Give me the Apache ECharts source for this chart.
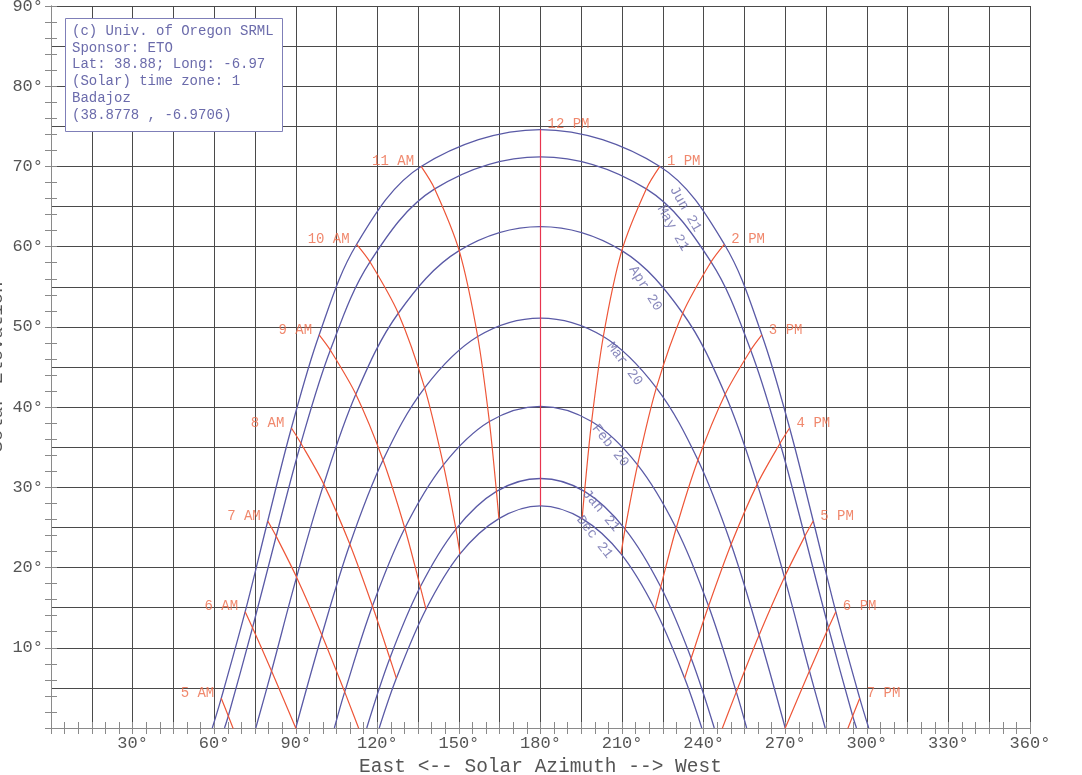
<!DOCTYPE html>
<html>
<head>
<meta charset="utf-8">
<script src="https://cdn.jsdelivr.net/npm/echarts@6/dist/echarts.min.js"></script>
<style>
html,body{margin:0;padding:0;background:#fff;}
#chart{width:1082px;height:775px;}
</style>
</head>
<body>
<div id="chart"></div>
<script>
// ---- Data (solar azimuth / elevation, degrees) ----
const hourLabels = ['5 AM','6 AM','7 AM','8 AM','9 AM','10 AM','11 AM','12 PM','1 PM','2 PM','3 PM','4 PM','5 PM','6 PM','7 PM'];
const dateNames = ['Jun 21','May 21','Apr 20','Mar 20','Feb 20','Jan 21','Dec 21'];

const jun21Az = [62.6, 71.4, 79.7, 88.4, 98.6, 112.4, 136.1, 180, 223.9, 247.6, 261.4, 271.6, 280.3, 288.6, 297.4];
const jun21El = [3.7, 14.5, 25.8, 37.4, 49.0, 60.3, 70.0, 74.6, 70.0, 60.3, 49.0, 37.4, 25.8, 14.5, 3.7];
const may21Az = [65.2, 74.1, 82.8, 91.9, 102.7, 117.3, 141.1, 180, 218.9, 242.7, 257.3, 268.1, 277.2, 285.9, 294.8];
const may21El = [1.5, 12.5, 23.9, 35.5, 47.1, 58.1, 67.2, 71.2, 67.2, 58.1, 47.1, 35.5, 23.9, 12.5, 1.5];
const apr20Az = [71.7, 81.1, 90.3, 100.3, 112.1, 127.7, 150.1, 180, 209.9, 232.3, 247.9, 259.7, 269.7, 278.9, 288.3];
const apr20El = [-4.2, 7.1, 18.8, 30.4, 41.6, 51.7, 59.5, 62.5, 59.5, 51.7, 41.6, 30.4, 18.8, 7.1, -4.2];
const mar20Az = [null, 90, 99.6, 109.9, 122.1, 137.4, 156.9, 180, 203.1, 222.6, 237.9, 250.1, 260.4, 270, null];
const mar20El = [null, 0, 11.6, 22.9, 33.4, 42.4, 48.8, 51.1, 48.8, 42.4, 33.4, 22.9, 11.6, 0, null];
const feb20Az = [null, 98.6, 108.0, 118.2, 130.1, 144.3, 161.2, 180, 198.8, 215.7, 229.9, 241.8, 252.0, 261.4, null];
const feb20El = [null, -6.9, 4.5, 15.2, 24.9, 32.8, 38.2, 40.1, 38.2, 32.8, 24.9, 15.2, 4.5, -6.9, null];
const jan21Az = [null, null, 114.8, 124.6, 135.8, 148.9, 163.8, 180, 196.2, 211.1, 224.2, 235.4, 245.2, null, null];
const jan21El = [null, null, -1.5, 8.7, 17.6, 24.8, 29.5, 31.1, 29.5, 24.8, 17.6, 8.7, -1.5, null, null];
const dec21Az = [null, null, 117.4, 127.0, 137.9, 150.4, 164.7, 180, 195.3, 209.6, 222.1, 233.0, 242.6, null, null];
const dec21El = [null, null, -3.7, 6.2, 14.8, 21.7, 26.1, 27.7, 26.1, 21.7, 14.8, 6.2, -3.7, null, null];

const sunriseAz = [59.3, 63.8, 75.3, 90.0, 104.2, 116.1, 120.7];
const sunsetAz  = [300.7, 296.2, 284.7, 270.0, 255.8, 243.9, 239.3];

// where each date's name is written along its curve
const dateLabelAz = [233.3, 228.7, 218.6, 210.9, 205.7, 202.3, 199.9];
const dateLabelEl = [64.7, 62.3, 54.8, 45.4, 35.2, 27.1, 23.8];

const xTickLabels = [30, 60, 90, 120, 150, 180, 210, 240, 270, 300, 330, 360];
const yTickLabels = [10, 20, 30, 40, 50, 60, 70, 80, 90];

const xTitle = 'East <-- Solar Azimuth --> West';
const yTitle = 'Solar Elevation';
const infoLines = ['(c) Univ. of Oregon SRML','Sponsor: ETO','Lat: 38.88; Long: -6.97','(Solar) time zone: 1','Badajoz','(38.8778 , -6.9706)'];

// ---- build series ----
const azByDate = [jun21Az, may21Az, apr20Az, mar20Az, feb20Az, jan21Az, dec21Az];
const elByDate = [jun21El, may21El, apr20El, mar20El, feb20El, jan21El, dec21El];

const FONT = 'Liberation Mono';
const BLUE = '#5a5aa6';
const RED = '#ee5638';
const LABEL_BLUE = '#6b6bab';
const LABEL_RED = '#ec6a48';
const dateRot = [-60, -60, -58, -53, -51, -50, -52];

const series = [];

dateNames.forEach((name, d) => {
  const pts = [[sunriseAz[d], 0]];
  for (let h = 0; h < hourLabels.length; h++) {
    const a = azByDate[d][h], e = elByDate[d][h];
    if (a !== null && e !== null && e > 0) pts.push([a, e]);
  }
  pts.push([sunsetAz[d], 0]);
  series.push({
    name: name, type: 'line', data: pts, smooth: 0.35,
    symbol: 'none', clip: true, silent: true,
    lineStyle: {color: BLUE, width: 1.3}, z: 3
  });
});

hourLabels.forEach((name, h) => {
  const pts = [];
  for (let d = 0; d < dateNames.length; d++) {
    const a = azByDate[d][h], e = elByDate[d][h];
    if (a !== null && e !== null) pts.push([a, e]);
  }
  series.push({
    name: name, type: 'line', data: pts, smooth: 0.3,
    symbol: 'none', clip: true, silent: true,
    lineStyle: {color: name === '12 PM' ? '#e8344e' : RED, width: 1.2}, z: 4
  });
});

// hour labels at the Jun 21 end of each hour line
series.push({
  type: 'scatter', symbolSize: 0, silent: true, z: 6,
  data: hourLabels.map((name, h) => ({
    value: [jun21Az[h], jun21El[h]],
    label: {
      show: true, formatter: name,
      position: name.indexOf('AM') >= 0 ? 'left' : 'right',
      distance: 7, offset: [0, -5],
      color: LABEL_RED, fontFamily: FONT, fontSize: 14
    }
  }))
});

// date labels along the curves
series.push({
  type: 'scatter', symbolSize: 0, silent: true, z: 6,
  data: dateNames.map((name, d) => ({
    value: [dateLabelAz[d], dateLabelEl[d]],
    label: {
      show: true, formatter: name, position: 'inside', rotate: dateRot[d],
      color: LABEL_BLUE, fontFamily: FONT, fontSize: 14
    }
  }))
});

const axisGray = '#8a8a8a';
const gridColor = '#4a4a4a';

const option = {
  animation: false,
  backgroundColor: '#fff',
  grid: {left: 51, right: 52, top: 6, bottom: 47, containLabel: false, outerBoundsMode: 'none'},
  xAxis: [
    {
      type: 'value', min: 0, max: 360, interval: 5, position: 'bottom',
      axisLine: {show: true, lineStyle: {color: axisGray, width: 1}},
      axisTick: {show: true, inside: true, length: 6, lineStyle: {color: axisGray}},
      axisLabel: {
        show: true, margin: 7, color: '#555', fontFamily: FONT, fontSize: 17,
        formatter: v => xTickLabels.indexOf(v) >= 0 ? v + '°' : ''
      },
      splitLine: {show: false},
      name: xTitle, nameLocation: 'middle', nameGap: 29,
      nameTextStyle: {color: '#555', fontFamily: FONT, fontSize: 19.5}
    },
    {
      type: 'value', min: 0, max: 360, interval: 5, position: 'top',
      axisLine: {show: true, lineStyle: {color: axisGray, width: 1}},
      axisTick: {show: true, inside: true, length: 6, lineStyle: {color: axisGray}},
      axisLabel: {show: false}, splitLine: {show: false}
    },
    {
      type: 'value', min: 0, max: 360, interval: 15, position: 'bottom',
      axisLine: {show: false}, axisTick: {show: false}, axisLabel: {show: false},
      splitLine: {show: true, lineStyle: {color: gridColor, width: 1}}
    }
  ],
  yAxis: [
    {
      type: 'value', min: 0, max: 90, interval: 2, position: 'left',
      axisLine: {show: true, lineStyle: {color: axisGray, width: 1}},
      axisTick: {show: true, inside: true, length: 6, lineStyle: {color: axisGray}},
      axisLabel: {
        show: true, margin: 8, color: '#555', fontFamily: FONT, fontSize: 17,
        formatter: v => yTickLabels.indexOf(v) >= 0 ? v + '°' : ''
      },
      splitLine: {show: false}
    },
    {
      type: 'value', min: 0, max: 90, interval: 2, position: 'right',
      axisLine: {show: true, lineStyle: {color: axisGray, width: 1}},
      axisTick: {show: true, inside: true, length: 6, lineStyle: {color: axisGray}},
      axisLabel: {show: false}, splitLine: {show: false}
    },
    {
      type: 'value', min: 0, max: 90, interval: 5, position: 'left',
      axisLine: {show: false}, axisTick: {show: false}, axisLabel: {show: false},
      splitLine: {show: true, lineStyle: {color: gridColor, width: 1}}
    }
  ],
  graphic: [
    {
      type: 'text', z: 50, x: 6, y: 367, rotation: Math.PI / 2,
      style: {
        text: yTitle, fill: '#555', font: '19px "Liberation Mono"',
        align: 'center', verticalAlign: 'bottom'
      }
    },
    {
      type: 'rect', z: 100,
      shape: {x: 65.5, y: 18.5, width: 217, height: 113},
      style: {fill: '#fff', stroke: '#7f7fb8', lineWidth: 1}
    },
    {
      type: 'text', z: 101, x: 72, y: 22.6,
      style: {
        text: infoLines.join('\n'), fill: LABEL_BLUE,
        font: '14px "Liberation Mono"', lineHeight: 16.8,
        verticalAlign: 'top', align: 'left'
      }
    }
  ],
  series: series
};

const chart = echarts.init(document.getElementById('chart'), null, {renderer: 'canvas'});
chart.setOption(option);
</script>
</body>
</html>
